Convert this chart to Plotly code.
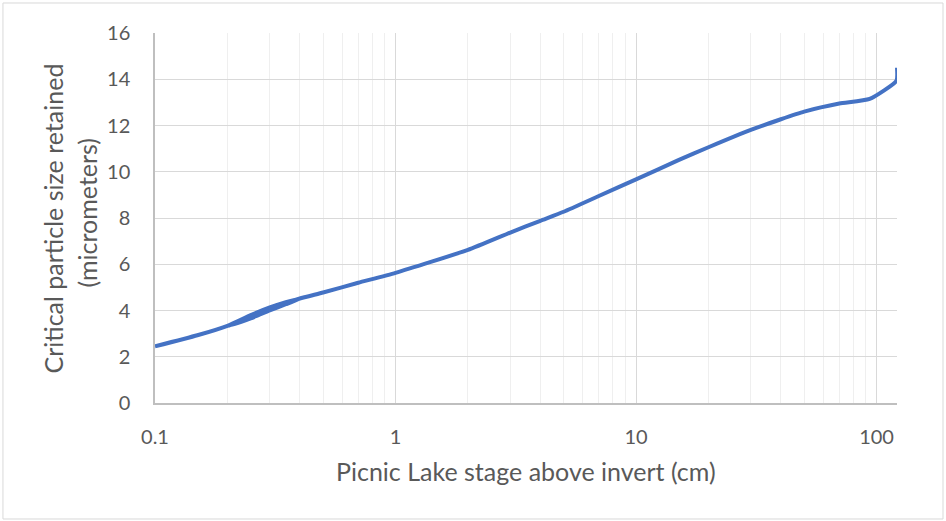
import plotly.graph_objects as go

# Picnic Lake stage above invert (cm)
stage_cm = [0.1, 0.15, 0.2, 0.25, 0.3, 0.35, 0.4, 0.35, 0.3, 0.25, 0.2, 0.25, 0.3, 0.35, 0.4,
            0.5, 0.7, 1, 2, 3, 4, 5, 7, 10, 15, 20, 30, 40, 50, 70, 93.6, 121, 121.6]
# Critical particle size retained (micrometers)
particle_um = [2.45, 2.93, 3.34, 3.80, 4.13, 4.36, 4.52, 4.27, 4.0, 3.66, 3.32, 3.72, 4.06,
               4.32, 4.52, 4.78, 5.2, 5.63, 6.62, 7.37, 7.88, 8.27, 8.95, 9.67, 10.5, 11.06,
               11.81, 12.27, 12.6, 12.95, 13.15, 13.94, 14.5]

x_tick_vals = [0.1, 1, 10, 100]
x_tick_text = ["0.1", "1", "10", "100"]
y_tick_vals = [0, 2, 4, 6, 8, 10, 12, 14, 16]

x_title = "Picnic Lake stage above invert (cm)"
y_title_line1 = "Critical particle size retained"
y_title_line2 = "(micrometers)"

FONT = "Lato, 'Open Sans', sans-serif"
TXT = "#595959"

fig = go.Figure()
fig.add_trace(go.Scatter(
    x=stage_cm, y=particle_um, mode="lines",
    line=dict(color="#4472C4", width=4, shape="spline", smoothing=0.5),
    showlegend=False, hoverinfo="x+y",
))

fig.update_layout(
    width=946, height=521,
    margin=dict(l=155, r=49, t=33, b=118),
    paper_bgcolor="white", plot_bgcolor="white",
    font=dict(family=FONT, color=TXT, size=20),
    xaxis=dict(
        type="log", range=[-1, 2.0849],
        tickvals=x_tick_vals, ticktext=x_tick_text,
        showgrid=True, gridcolor="#d9d9d9", gridwidth=1.3,
        minor=dict(dtick="D1", showgrid=True, gridcolor="#efefef", gridwidth=1.2, ticks=""),
        showline=True, linecolor="#bfbfbf", linewidth=1.5,
        ticks="", ticklabelstandoff=15,
        tickfont=dict(size=20, color=TXT, family=FONT),
        zeroline=False,
    ),
    yaxis=dict(
        range=[0, 16], tickvals=y_tick_vals,
        showgrid=True, gridcolor="#d9d9d9", gridwidth=1.3,
        showline=True, linecolor="#bfbfbf", linewidth=1.5,
        ticks="", ticklabelstandoff=19,
        tickfont=dict(size=20, color=TXT, family=FONT),
        zeroline=False,
    ),
    shapes=[dict(
        type="rect", xref="paper", yref="paper",
        x0=-0.2049, x1=1.0620, y0=-0.3135, y1=1.0811,
        line=dict(color="#d9d9d9", width=1), layer="below",
    )],
    annotations=[
        dict(text=x_title, xref="paper", yref="paper", x=0.5, y=-0.184,
             xanchor="center", yanchor="middle", showarrow=False,
             font=dict(size=25, color=TXT, family=FONT)),
        dict(text=y_title_line1, xref="paper", yref="paper", x=-0.1375, y=0.4986,
             xanchor="center", yanchor="middle", showarrow=False, textangle=-90,
             font=dict(size=25, color=TXT, family=FONT)),
        dict(text=y_title_line2, xref="paper", yref="paper", x=-0.0916, y=0.515,
             xanchor="center", yanchor="middle", showarrow=False, textangle=-90,
             font=dict(size=25, color=TXT, family=FONT)),
    ],
)

fig.write_html("out.html", config={"displayModeBar": False},
               post_script="document.body.style.margin='0';document.body.style.padding='0';")
